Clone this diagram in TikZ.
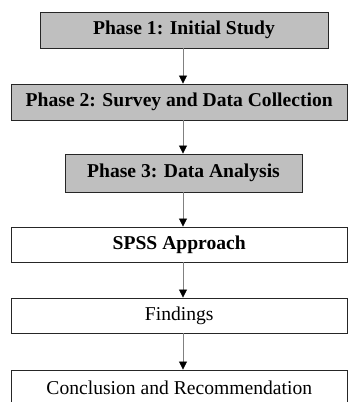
\documentclass[tikz,border=0pt]{standalone}
\usepackage{fontspec}
\setmainfont{Liberation Serif}
\usetikzlibrary{arrows.meta}
\begin{document}
\begin{tikzpicture}[x=1pt,y=-1pt,
  phasebox/.style={draw=black!85, line width=0.9pt, fill=black!25, inner sep=0pt, font=\fontsize{19.6}{22}\selectfont\bfseries},
  plainbox/.style={draw=black!85, line width=0.9pt, fill=white, inner sep=0pt, font=\fontsize{19.6}{22}\selectfont},
  flow/.style={draw=black!50, line width=0.8pt, -{Triangle[width=8pt,length=8pt,color=black]}}]
\useasboundingbox (0,0) rectangle (348,402);
\begin{scope}
\clip (0,0) rectangle (348,402);
\node[phasebox, minimum width=288pt, minimum height=36pt] (p1) at (184,30) {Phase 1: Initial Study};
\node[phasebox, minimum width=336.5pt, minimum height=36pt] (p2) at (179.25,102) {Phase 2: Survey and Data Collection};
\node[phasebox, minimum width=237pt, minimum height=38pt] (p3) at (183.5,173) {Phase 3: Data Analysis};
\node[plainbox, minimum width=336.5pt, minimum height=35pt] (spss) at (179.25,244.5) {\bfseries SPSS Approach};
\node[plainbox, minimum width=336.5pt, minimum height=35pt] (find) at (179.25,315.5) {Findings};
\node[plainbox, minimum width=336.5pt, minimum height=36pt] (conc) at (179.25,388) {Conclusion and Recommendation};
\end{scope}
\draw[flow] (p1.south -| 183,0) -- (p2.north -| 183,0);
\draw[flow] (p2.south -| 183,0) -- (p3.north -| 183,0);
\draw[flow] (p3.south -| 183,0) -- (spss.north -| 183,0);
\draw[flow] (spss.south -| 183,0) -- (find.north -| 183,0);
\draw[flow] (find.south -| 183,0) -- (conc.north -| 183,0);
\end{tikzpicture}
\end{document}
